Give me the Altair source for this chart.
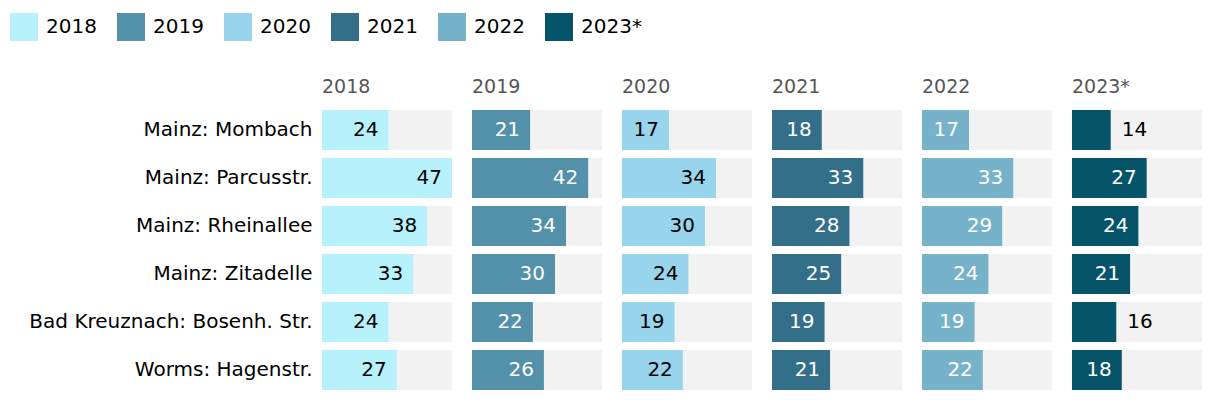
import altair as alt
import pandas as pd

stations = [
    "Mainz: Mombach",
    "Mainz: Parcusstr.",
    "Mainz: Rheinallee",
    "Mainz: Zitadelle",
    "Bad Kreuznach: Bosenh. Str.",
    "Worms: Hagenstr.",
]
years = ["2018", "2019", "2020", "2021", "2022", "2023*"]
v2018 = [24, 47, 38, 33, 24, 27]
v2019 = [21, 42, 34, 30, 22, 26]
v2020 = [17, 34, 30, 24, 19, 22]
v2021 = [18, 33, 28, 25, 19, 21]
v2022 = [17, 33, 29, 24, 19, 22]
v2023 = [14, 27, 24, 21, 16, 18]
values = [v2018, v2019, v2020, v2021, v2022, v2023]

colors = ["#b6f1fc", "#5390a9", "#98d4eb", "#336f88", "#76b2c9", "#065469"]
label_colors = ["#000000", "#ffffff", "#000000", "#ffffff", "#ffffff", "#ffffff"]
max_value = 47
outside_below = 17

rows = []
for yi, (yr, vals) in enumerate(zip(years, values)):
    for s, v in zip(stations, vals):
        outside = v < outside_below
        rows.append(dict(year=yr, station=s, value=v, bg=max_value,
                         tc="#000000" if outside else label_colors[yi],
                         pos="out" if outside else "in"))
df = pd.DataFrame(rows)

FONT = "DejaVu Sans"
xscale = alt.Scale(domain=[0, max_value], nice=False, zero=True)
y = alt.Y("station:N", sort=stations, title=None,
          scale=alt.Scale(paddingInner=8 / 48, paddingOuter=4 / 48),
          axis=alt.Axis(labelFontSize=20, labelColor="#000000", ticks=False,
                        domain=False, labelPadding=10, labelFont=FONT, labelLimit=400))

base = alt.Chart()

bg = base.mark_bar(color="#f2f2f2").encode(
    x=alt.X("bg:Q", scale=xscale, axis=None), y=y)

bar = base.mark_bar().encode(
    x=alt.X("value:Q", scale=xscale, axis=None), y=y,
    color=alt.Color("year:N", scale=alt.Scale(domain=years, range=colors),
                    legend=alt.Legend(orient="none", legendX=-312, legendY=-93,
                                      direction="horizontal", title=None,
                                      symbolType="square", symbolSize=784,
                                      symbolStrokeWidth=0, symbolOpacity=1,
                                      labelFontSize=20, labelFont=FONT,
                                      labelColor="#000000", labelOffset=8,
                                      columnPadding=20)))

text_in = base.transform_filter("datum.pos == 'in'").mark_text(
    align="right", dx=-10, baseline="middle", fontSize=20, font=FONT).encode(
    x=alt.X("value:Q", scale=xscale, axis=None), y=y, text="value:Q",
    fill=alt.Fill("tc:N", scale=None))

text_out = base.transform_filter("datum.pos == 'out'").mark_text(
    align="left", dx=11, baseline="middle", fontSize=20, font=FONT).encode(
    x=alt.X("value:Q", scale=xscale, axis=None), y=y, text="value:Q",
    fill=alt.Fill("tc:N", scale=None))

chart = alt.layer(bg, bar, text_in, text_out, data=df).properties(
    width=130, height=288
).facet(
    column=alt.Column("year:N", sort=years,
                      header=alt.Header(title=None, labelAnchor="start",
                                        labelFontSize=19, labelColor="#555555",
                                        labelFont=FONT, labelPadding=9))
).properties(
    spacing=20,
    padding={"left": 2, "top": 5, "right": 5, "bottom": 5},
).configure_view(stroke=None)

chart.save("out.html", embed_options={"renderer": "svg", "actions": False})
